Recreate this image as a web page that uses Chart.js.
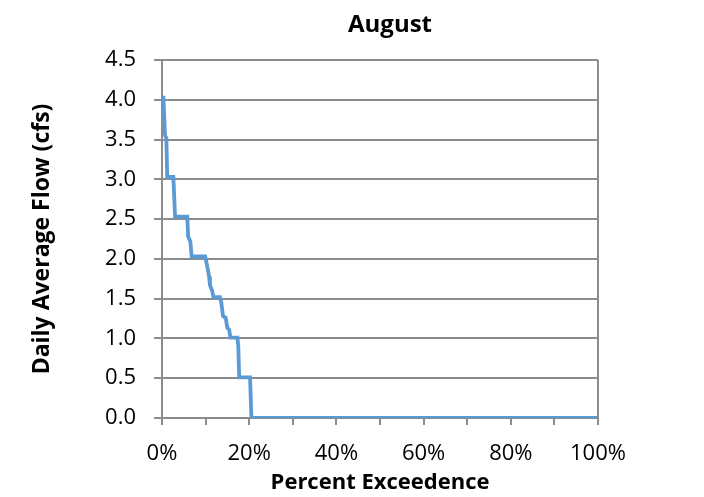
<!DOCTYPE html>
<html>
<head>
<meta charset="utf-8">
<script src="https://cdn.jsdelivr.net/npm/chart.js@4.4.0/dist/chart.umd.min.js"></script>
<style>
html,body{margin:0;padding:0;background:#fff;}
#wrap{width:704px;height:497px;position:relative;}
</style>
</head>
<body>
<div id="wrap"><canvas id="c"></canvas></div>
<script>
const chartTitle = "August";
const xTitle = "Percent Exceedence";
const yTitle = "Daily Average Flow (cfs)";
// percent exceedence (%)
const exceedence = [0.3, 0.7, 1.0, 1.2, 2.6, 3.0, 5.8, 6.0, 6.5, 6.8, 9.9, 10.4, 10.8, 11.0, 11.5, 11.8, 13.3, 13.6, 14.0, 14.6, 15.0, 15.4, 15.7, 17.3, 17.5, 17.7, 20.2, 20.5, 100];
// daily average flow (cfs)
const flow = [4.05, 3.55, 3.52, 3.03, 3.03, 2.53, 2.53, 2.28, 2.22, 2.03, 2.03, 1.90, 1.78, 1.67, 1.60, 1.52, 1.52, 1.45, 1.28, 1.26, 1.13, 1.11, 1.01, 1.01, 0.90, 0.51, 0.51, 0.0, 0.0];
const yTicks = [0, 0.5, 1, 1.5, 2, 2.5, 3, 3.5, 4, 4.5];
const xLabelTicks = [0, 20, 40, 60, 80, 100];

const FONT = "'Open Sans', 'Liberation Sans', sans-serif";
const GRID = '#8c8c8c';

const points = exceedence.map((x, i) => ({x: x, y: flow[i]}));

const titlePlugin = {
  id: 'customTitle',
  afterDraw(chart) {
    const ctx = chart.ctx;
    const ca = chart.chartArea;
    ctx.save();
    ctx.font = "bold 24px " + FONT;
    ctx.fillStyle = '#000';
    ctx.textAlign = 'center';
    ctx.textBaseline = 'alphabetic';
    ctx.fillText(chartTitle, (ca.left + ca.right) / 2 + 10, 32);
    ctx.restore();
  }
};

new Chart(document.getElementById('c'), {
  type: 'line',
  data: {
    datasets: [{
      data: points,
      borderColor: '#5b9bd5',
      borderWidth: 3.8,
      pointRadius: 0,
      tension: 0,
      fill: false
    }]
  },
  options: {
    responsive: true,
    maintainAspectRatio: false,
    animation: false,
    layout: {padding: {top: 60, right: 106, left: 0, bottom: 0}},
    plugins: {legend: {display: false}, tooltip: {enabled: false}, title: {display: false}},
    scales: {
      x: {
        type: 'linear',
        min: 0, max: 100,
        afterFit(scale) { scale.height = 79; },
        ticks: {
          stepSize: 10,
          autoSkip: false,
          maxRotation: 0,
          padding: 16,
          color: '#000',
          font: {family: FONT, size: 22},
          callback: (v) => xLabelTicks.includes(v) ? v + '%' : ''
        },
        grid: {
          drawOnChartArea: true,
          color: (c) => (c.tick && c.tick.value === 100) ? GRID : 'rgba(0,0,0,0)',
          tickColor: GRID,
          tickLength: 7,
          lineWidth: 2
        },
        border: {display: true, color: GRID, width: 2},
        title: {
          display: true,
          text: xTitle,
          color: '#000',
          font: {family: FONT, size: 22, weight: 'bold'},
          padding: {top: 0, bottom: 1}
        }
      },
      y: {
        type: 'linear',
        min: 0, max: 4.5,
        afterFit(scale) { scale.width = 162; },
        afterBuildTicks(scale) { scale.ticks = yTicks.map(v => ({value: v})); },
        ticks: {
          padding: 18,
          color: '#000',
          font: {family: FONT, size: 22},
          callback: (v) => v.toFixed(1)
        },
        grid: {
          color: GRID,
          tickColor: GRID,
          tickLength: 8,
          lineWidth: 2
        },
        border: {display: true, color: GRID, width: 2},
        title: {
          display: true,
          text: yTitle,
          color: '#000',
          font: {family: FONT, size: 23, weight: 'bold'},
          padding: {top: 29, bottom: 0}
        }
      }
    }
  },
  plugins: [titlePlugin]
});
</script>
</body>
</html>
